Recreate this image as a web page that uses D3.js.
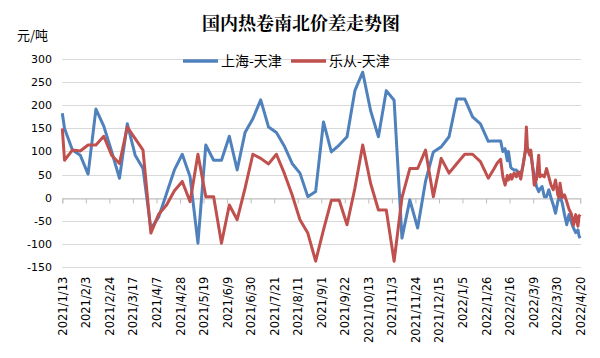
<!DOCTYPE html>
<html><head><meta charset="utf-8">
<script src="https://cdn.jsdelivr.net/npm/d3@7"></script>
<style>body{margin:0;background:#fff;}svg{display:block}</style>
</head><body>
<svg id="c" width="600" height="358"></svg>
<script>
const dates = [
"2021-01-13","2021-01-15","2021-01-22","2021-01-29","2021-02-05","2021-02-12","2021-02-19","2021-02-26",
"2021-03-05","2021-03-12","2021-03-19","2021-03-26","2021-04-02","2021-04-09","2021-04-16","2021-04-23",
"2021-04-30","2021-05-07","2021-05-14","2021-05-21","2021-05-28","2021-06-04","2021-06-11","2021-06-18",
"2021-06-25","2021-07-02","2021-07-09","2021-07-16","2021-07-23","2021-07-30","2021-08-06","2021-08-13",
"2021-08-20","2021-08-27","2021-09-03","2021-09-10","2021-09-17","2021-09-24","2021-10-01","2021-10-08",
"2021-10-15","2021-10-22","2021-10-29","2021-11-05","2021-11-12","2021-11-19","2021-11-26","2021-12-03",
"2021-12-10","2021-12-17","2021-12-24","2021-12-31","2022-01-07","2022-01-14","2022-01-21","2022-01-28",
"2022-02-02","2022-02-05","2022-02-08","2022-02-10","2022-02-12","2022-02-14","2022-02-15","2022-02-17",
"2022-02-18","2022-02-20","2022-02-22","2022-02-24","2022-02-26","2022-02-28","2022-03-02","2022-03-03",
"2022-03-04","2022-03-06","2022-03-07","2022-03-09","2022-03-10","2022-03-12","2022-03-14","2022-03-15",
"2022-03-17","2022-03-19","2022-03-21","2022-03-23","2022-03-25","2022-03-27","2022-03-29","2022-03-31",
"2022-04-01","2022-04-02","2022-04-04","2022-04-06","2022-04-08","2022-04-10","2022-04-12","2022-04-13",
"2022-04-14","2022-04-16","2022-04-18","2022-04-19","2022-04-20"
];
const shanghai = [
183,150,103,92,51,192,155,100,42,160,92,63,-68,-42,9,60,
94,45,-99,114,81,81,133,60,141,171,212,153,141,112,74,53,
2,13,164,99,114,132,232,272,189,132,232,211,-88,-5,-66,35,
99,110,132,214,214,175,160,122,
123,123,123,100,106,80,100,66,63,60,60,49,49,70,100,110,
108,96,92,60,50,24,13,18,24,2,2,17,-1,-16,-34,-9,
-2,2,-12,-37,-59,-37,-52,-60,-66,-76,-70,-84,-88
];
const lecong = [
150,81,103,101,114,114,133,92,74,153,128,103,-77,-36,-16,15,
35,-9,94,2,2,-99,-16,-48,20,94,85,73,94,53,6,-48,
-77,-138,-70,-6,-6,-59,20,114,31,-27,-27,-138,0,63,63,103,
2,85,53,74,94,94,78,42,
62,75,83,45,27,48,38,50,40,53,45,56,40,70,100,153,
105,92,103,55,27,40,92,45,49,45,63,45,27,17,38,6,
0,31,0,6,-9,-25,-35,-45,-60,-37,-62,-40,-37
];
const xTickLabels = ["2021/1/13","2021/2/3","2021/2/24","2021/3/17","2021/4/7","2021/4/28","2021/5/19",
"2021/6/9","2021/6/30","2021/7/21","2021/8/11","2021/9/1","2021/9/22","2021/10/13","2021/11/3",
"2021/11/24","2021/12/15","2022/1/5","2022/1/26","2022/2/16","2022/3/9","2022/3/30","2022/4/20"];
const yTicks = [-150,-100,-50,0,50,100,150,200,250,300];
const seriesNames = ["上海-天津","乐从-天津"];
const seriesColors = ["#4F81BD","#C0504D"];

const parse = d3.timeParse("%Y-%m-%d");
const parseTick = d3.timeParse("%Y/%m/%d");
const svg = d3.select("#c");
const pLeft = 62.3, pRight = 580.2, pTop = 59.3, pBottom = 266.7;

const x = d3.scaleTime().domain([parseTick(xTickLabels[0]), parseTick(xTickLabels[xTickLabels.length-1])]).range([pLeft, pRight]);
const y = d3.scaleLinear().domain([-150, 300]).range([pBottom, pTop]);

// gridlines
svg.append("g").selectAll("line").data(yTicks).join("line")
  .attr("x1", pLeft).attr("x2", pRight + 1)
  .attr("y1", d => Math.round(y(d)) + 0.5).attr("y2", d => Math.round(y(d)) + 0.5)
  .attr("stroke", "#d9d9d9").attr("stroke-width", 1);

// y labels
svg.append("g").selectAll("text").data(yTicks).join("text")
  .attr("x", 52).attr("y", d => y(d) + 4)
  .attr("text-anchor", "end")
  .attr("font-family", "DejaVu Sans, Verdana, sans-serif").attr("font-size", 11)
  .attr("fill", "#000").text(d => d);

// x axis at zero
const xAxis = d3.axisBottom(x)
  .tickValues(xTickLabels.map(parseTick))
  .tickSize(5).tickFormat("");
const gx = svg.append("g").attr("transform", `translate(0,${Math.round(y(0)) + 0.5})`).call(xAxis);
gx.select(".domain").attr("stroke", "#bfbfbf");
gx.selectAll(".tick line").attr("stroke", "#bfbfbf");

// x labels at bottom
svg.append("g").selectAll("text").data(xTickLabels).join("text")
  .attr("transform", d => `translate(${x(parseTick(d)) + 4.5},${pBottom + 10}) rotate(-90)`)
  .attr("text-anchor", "end")
  .attr("font-family", "DejaVu Sans, Verdana, sans-serif").attr("font-size", 11.5)
  .attr("fill", "#000").text(d => d);

// lines
const pts = dates.map(parse);
const line = d3.line().x(d => x(d[0])).y(d => y(d[1]));
[shanghai, lecong].forEach((vals, i) => {
  svg.append("path")
    .attr("d", line(pts.map((p, j) => [p, vals[j]])))
    .attr("fill", "none").attr("stroke", seriesColors[i])
    .attr("stroke-width", 3).attr("stroke-linejoin", "round");
});

// title
svg.append("text").attr("x", 301).attr("y", 30).attr("text-anchor", "middle")
  .attr("font-family", "Noto Serif CJK SC, Noto Sans CJK SC, sans-serif")
  .attr("font-weight", "bold").attr("font-size", 18).attr("fill", "#000")
  .text("国内热卷南北价差走势图");

// unit
svg.append("text").attr("x", 17).attr("y", 40)
  .attr("font-family", "Noto Sans CJK SC, sans-serif").attr("font-size", 13).attr("fill", "#000")
  .text("元/吨");

// legend
const legX = [183, 291];
seriesNames.forEach((n, i) => {
  const g = svg.append("g");
  g.append("line").attr("x1", legX[i]).attr("x2", legX[i] + 35)
    .attr("y1", 61).attr("y2", 61).attr("stroke", seriesColors[i]).attr("stroke-width", 3.5);
  g.append("text").attr("x", legX[i] + 38).attr("y", 66)
    .attr("font-family", "Noto Sans CJK SC, sans-serif").attr("font-size", 14).attr("fill", "#000")
    .text(n);
});
</script>
</body></html>
